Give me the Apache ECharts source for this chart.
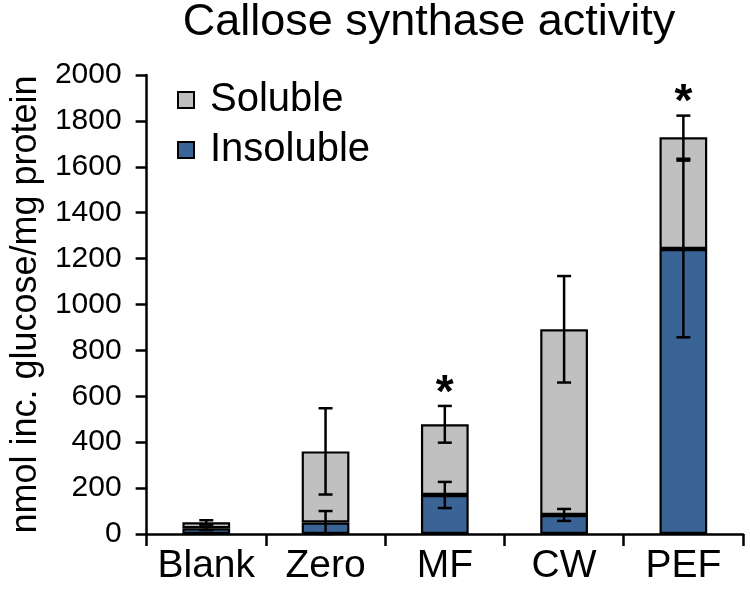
<!DOCTYPE html>
<html><head><meta charset="utf-8">
<script src="https://cdn.jsdelivr.net/npm/echarts@6/dist/echarts.min.js"></script>
<style>html,body{margin:0;padding:0;background:#fff}#c{width:750px;height:591px}</style>
</head><body><div id="c"></div>
<script>
const categories = ['Blank', 'Zero', 'MF', 'CW', 'PEF'];
const insoluble = [25, 50, 170, 83, 1242];
const insolubleErr = [8, 50, 57, 26, 385];
const soluble = [26, 310, 308, 809, 487];
const solubleErr = [9, 188, 80, 232, 94];
const significance = ['', '', '*', '', '*'];
const yTicks = [0, 200, 400, 600, 800, 1000, 1200, 1400, 1600, 1800, 2000];

const FONT = 'Liberation Sans';
const totals = insoluble.map((v, i) => v + soluble[i]);

function errSeries(tops, errs, withStar) {
  return {
    type: 'custom',
    silent: true,
    z: 10,
    data: tops.map((t, i) => [i, t, errs[i]]),
    renderItem: function (params, api) {
      const x = api.value(0), t = api.value(1), e = api.value(2);
      const star = withStar ? significance[x] : '';
      const p0 = api.coord([x, t - e]);
      const p1 = api.coord([x, t + e]);
      const cap = 7;
      const st = { stroke: '#000', lineWidth: 2.5 };
      const children = [
        { type: 'line', shape: { x1: p0[0], y1: p0[1], x2: p1[0], y2: p1[1] }, style: st },
        { type: 'line', shape: { x1: p0[0] - cap, y1: p0[1], x2: p0[0] + cap, y2: p0[1] }, style: st },
        { type: 'line', shape: { x1: p1[0] - cap, y1: p1[1], x2: p1[0] + cap, y2: p1[1] }, style: st }
      ];
      if (star) {
        children.push({ type: 'text', style: { text: star, x: p1[0], y: p1[1] - 35, textAlign: 'center', textVerticalAlign: 'top', font: 'bold 46px ' + FONT, fill: '#000' } });
      }
      return { type: 'group', children: children };
    }
  };
}

const chart = echarts.init(document.getElementById('c'), null, { renderer: 'canvas' });
chart.setOption({
  animation: false,
  backgroundColor: '#fff',
  textStyle: { fontFamily: FONT },
  title: {
    text: 'Callose synthase activity',
    left: 429, top: 0, textAlign: 'center', padding: 0,
    textStyle: { fontFamily: FONT, fontSize: 45, fontWeight: 'normal', color: '#000' }
  },
  legend: {
    orient: 'vertical',
    left: 177, top: 80, padding: 0,
    itemWidth: 16, itemHeight: 16, itemGap: 10,
    icon: 'rect',
    data: ['Soluble', 'Insoluble'],
    textStyle: { fontFamily: FONT, fontSize: 40, color: '#000', padding: [0, 0, 0, 11] }
  },
  grid: { left: 143, right: 7, top: 75, bottom: 57, containLabel: false },
  xAxis: {
    type: 'category',
    data: categories,
    boundaryGap: true,
    axisLine: { lineStyle: { color: '#000', width: 2.5 } },
    axisTick: { show: true, length: 12, lineStyle: { color: '#000', width: 2.5 } },
    axisLabel: { color: '#000', fontSize: 39, fontFamily: FONT, margin: 13, interval: 0 }
  },
  yAxis: {
    type: 'value',
    min: 0, max: 2000, interval: 200,
    name: 'nmol inc. glucose/mg protein',
    nameLocation: 'middle',
    nameGap: 97,
    nameTextStyle: { color: '#000', fontSize: 36, fontFamily: FONT },
    axisLine: { show: true, lineStyle: { color: '#000', width: 2.5 } },
    axisTick: { show: true, length: 11, lineStyle: { color: '#000', width: 2.5 } },
    splitLine: { show: false },
    axisLabel: { color: '#000', fontSize: 30, fontFamily: FONT, margin: 25,
      formatter: function (v) { return yTicks.indexOf(v) >= 0 ? String(v) : ''; } }
  },
  series: [
    {
      name: 'Insoluble', type: 'bar', stack: 'a', data: insoluble, barWidth: '40%',
      itemStyle: { color: '#3A6496', borderColor: '#000', borderWidth: 2.2 }
    },
    {
      name: 'Soluble', type: 'bar', stack: 'a', data: soluble, barWidth: '40%',
      itemStyle: { color: '#C0C0C0', borderColor: '#000', borderWidth: 2.2 }
    },
    errSeries(insoluble, insolubleErr, false),
    errSeries(totals, solubleErr, true)
  ]
});
</script></body></html>
